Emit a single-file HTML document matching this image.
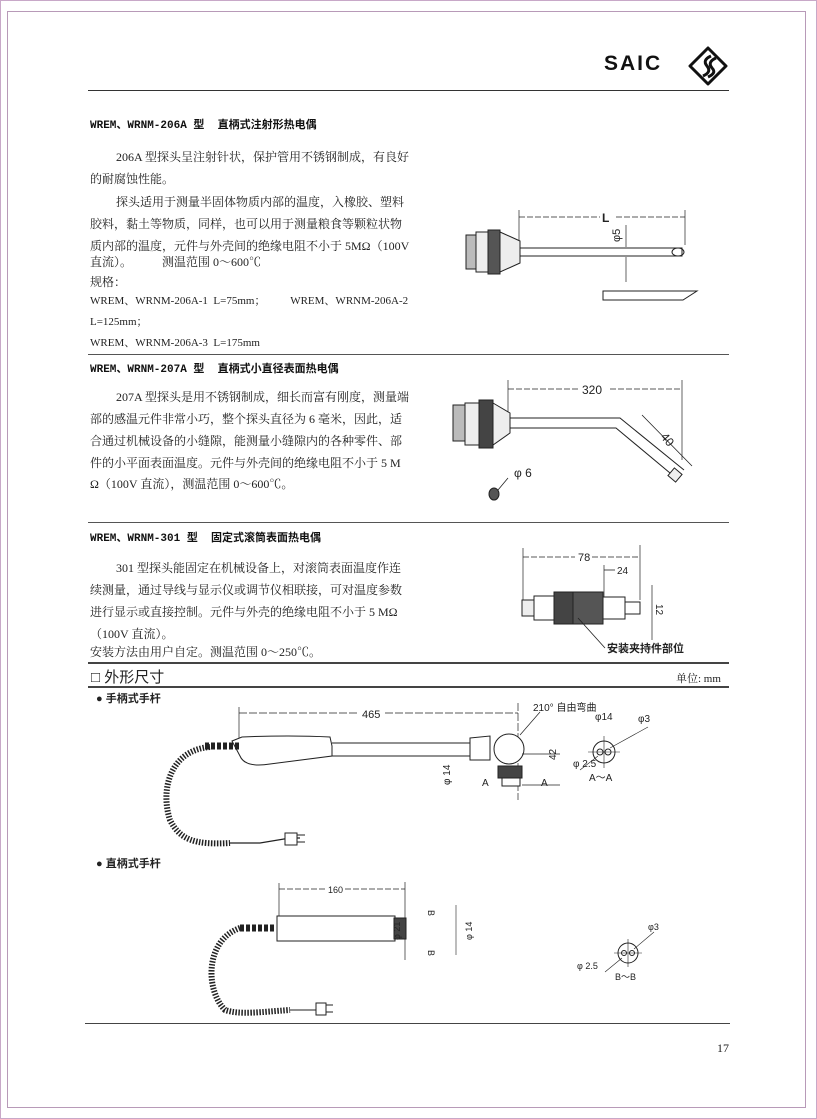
<!DOCTYPE html>
<html><head><meta charset="utf-8"><style>
body{margin:0;width:817px;height:1119px;background:#fff;position:relative;overflow:hidden;font-family:"Liberation Serif","Noto Serif CJK SC",serif;color:#222}
.t{position:absolute;font-size:12px;white-space:nowrap;line-height:14px}
.h{position:absolute;font-size:11px;font-weight:bold;white-space:nowrap;font-family:"Liberation Mono","Noto Sans CJK SC",sans-serif;color:#111}
.r{position:absolute;height:1px;background:#555}
.s{font-family:"Liberation Sans","Noto Sans CJK SC",sans-serif}
</style></head><body>
<div style="position:absolute;left:0;top:0;width:815px;height:1117px;border:1px solid #c8a8c8"></div>
<div style="position:absolute;left:7px;top:11px;width:797px;height:1095px;border:1px solid #b89ab8"></div>

<div class="s" style="position:absolute;left:604px;top:52px;font-size:21px;font-weight:900;letter-spacing:2px;color:#111">SAIC</div>
<svg style="position:absolute;left:688px;top:46px" width="46" height="40"><path d="M20 2 L38 20 L20 38 L2 20 Z" fill="none" stroke="#111" stroke-width="3" stroke-linejoin="round"/><path d="M23 10 Q14 14 19 20 Q24 26 15 30 M28 12 Q19 16 24 22 Q29 27 20 31" fill="none" stroke="#111" stroke-width="3"/></svg>
<div class="r" style="left:88px;top:90px;width:641px;background:#333"></div>

<div class="h" style="left:90px;top:116px">WREM、WRNM-206A 型 &nbsp;直柄式注射形热电偶</div>
<div class="t" style="left:116px;top:150px">206A 型探头呈注射针状，保护管用不锈钢制成，有良好</div>
<div class="t" style="left:90px;top:172px">的耐腐蚀性能。</div>
<div class="t" style="left:116px;top:195px">探头适用于测量半固体物质内部的温度，入橡胶、塑料</div>
<div class="t" style="left:90px;top:217px">胶料，黏土等物质，同样，也可以用于测量粮食等颗粒状物</div>
<div class="t" style="left:90px;top:239px">质内部的温度，元件与外壳间的绝缘电阻不小于 5MΩ（100V</div>
<div class="t" style="left:90px;top:255px">直流）。&nbsp;&nbsp;&nbsp;&nbsp;&nbsp;&nbsp;&nbsp;&nbsp;&nbsp;&nbsp;测温范围 0～600℃</div>
<div class="t" style="left:90px;top:275px;font-size:12px">规格：</div>
<div class="t" style="left:90px;top:294px;font-size:11px">WREM、WRNM-206A-1 &nbsp;L=75mm； &nbsp;&nbsp;&nbsp;&nbsp;&nbsp;&nbsp;&nbsp;&nbsp;WREM、WRNM-206A-2</div>
<div class="t" style="left:90px;top:315px;font-size:11px">L=125mm；</div>
<div class="t" style="left:90px;top:336px;font-size:11px">WREM、WRNM-206A-3 &nbsp;L=175mm</div>
<div class="r" style="left:88px;top:354px;width:641px"></div>

<div class="h" style="left:90px;top:360px">WREM、WRNM-207A 型 &nbsp;直柄式小直径表面热电偶</div>
<div class="t" style="left:116px;top:390px">207A 型探头是用不锈钢制成，细长而富有刚度，测量端</div>
<div class="t" style="left:90px;top:412px">部的感温元件非常小巧，整个探头直径为 6 毫米，因此，适</div>
<div class="t" style="left:90px;top:434px">合通过机械设备的小缝隙，能测量小缝隙内的各种零件、部</div>
<div class="t" style="left:90px;top:456px">件的小平面表面温度。元件与外壳间的绝缘电阻不小于 5 M</div>
<div class="t" style="left:90px;top:477px">Ω（100V 直流），测温范围 0～600℃。</div>
<div class="r" style="left:88px;top:522px;width:641px"></div>

<div class="h" style="left:90px;top:529px">WREM、WRNM-301 型 &nbsp;固定式滚筒表面热电偶</div>
<div class="t" style="left:116px;top:561px">301 型探头能固定在机械设备上，对滚筒表面温度作连</div>
<div class="t" style="left:90px;top:583px">续测量，通过导线与显示仪或调节仪相联接，可对温度参数</div>
<div class="t" style="left:90px;top:605px">进行显示或直接控制。元件与外壳的绝缘电阻不小于 5 MΩ</div>
<div class="t" style="left:90px;top:627px">（100V 直流）。</div>
<div class="t" style="left:90px;top:645px">安装方法由用户自定。测温范围 0～250℃。</div>
<div class="r" style="left:88px;top:662px;width:641px;background:#444;height:2px"></div>
<div class="s" style="position:absolute;left:91px;top:666px;font-size:15px">□ 外形尺寸</div>
<div class="t" style="left:676px;top:672px;font-size:11px">单位: mm</div>
<div class="r" style="left:88px;top:686px;width:641px;background:#444;height:2px"></div>
<div class="s" style="position:absolute;left:96px;top:690px;font-size:11px;font-weight:bold">● 手柄式手杆</div>
<div class="s" style="position:absolute;left:96px;top:855px;font-size:11px;font-weight:bold">● 直柄式手杆</div>

<svg style="position:absolute;left:0;top:0" width="817" height="1119" font-family="Liberation Sans,Noto Sans CJK SC,sans-serif" fill="none" stroke="#222">
<rect x="466" y="235" width="10" height="34" fill="#bbb"/>
<rect x="476" y="232" width="12" height="40" fill="#eee"/>
<rect x="488" y="230" width="12" height="44" fill="#555"/>
<path d="M500 232 L520 241 L520 263 L500 272 Z" fill="#eee"/>
<rect x="520" y="248" width="162" height="8" fill="#fff"/>
<ellipse cx="678" cy="252" rx="6" ry="4"/>
<line x1="519" y1="210" x2="519" y2="240" stroke-width=".7"/><line x1="685" y1="210" x2="685" y2="245" stroke-width=".7"/>
<line x1="519" y1="217" x2="600" y2="217" stroke-dasharray="6 2" stroke-width=".8"/><line x1="616" y1="217" x2="685" y2="217" stroke-dasharray="6 2" stroke-width=".8"/>
<text x="602" y="222" fill="#222" stroke="none" font-size="12" font-weight="bold">L</text>
<line x1="626" y1="225" x2="626" y2="247" stroke-width=".7"/><line x1="626" y1="257" x2="626" y2="282" stroke-width=".7"/>
<text x="620" y="242" fill="#222" stroke="none" font-size="11" transform="rotate(-90 620 242)">φ5</text>
<path d="M603 291 L697 291 L683 300 L603 300 Z"/>
<rect x="453" y="405" width="12" height="36" fill="#bbb"/>
<rect x="465" y="403" width="14" height="42" fill="#eee"/>
<rect x="479" y="400" width="14" height="48" fill="#444"/>
<path d="M493 403 L510 413 L510 433 L493 445 Z" fill="#eee"/>
<path d="M510 418 L620 418 L684 470 M510 428 L616 428 L676 478" />
<rect x="670" y="470" width="10" height="10" transform="rotate(40 675 475)" fill="#eee"/>
<line x1="508" y1="380" x2="508" y2="412" stroke-width=".7"/><line x1="682" y1="380" x2="682" y2="460" stroke-width=".7"/>
<line x1="508" y1="389" x2="578" y2="389" stroke-dasharray="6 2" stroke-width=".8"/><line x1="610" y1="389" x2="682" y2="389" stroke-dasharray="6 2" stroke-width=".8"/>
<text x="582" y="394" fill="#222" stroke="none" font-size="12">320</text>
<line x1="642" y1="415" x2="692" y2="466" stroke-width=".8"/>
<text x="660" y="437" fill="#222" stroke="none" font-size="12" transform="rotate(50 660 437)">40</text>
<text x="514" y="477" fill="#222" stroke="none" font-size="12">φ 6</text>
<line x1="508" y1="478" x2="498" y2="490" stroke-width=".8"/>
<ellipse cx="494" cy="494" rx="5" ry="6" fill="#555"/>
<rect x="522" y="600" width="12" height="16" fill="#eee"/><rect x="534" y="596" width="20" height="24" fill="#fff"/>
<rect x="554" y="592" width="19" height="32" fill="#444"/><rect x="573" y="592" width="30" height="32" fill="#555"/>
<rect x="603" y="597" width="22" height="22" fill="#fff"/><rect x="625" y="602" width="15" height="12" fill="#fff"/>
<line x1="523" y1="548" x2="523" y2="600" stroke-width=".7"/><line x1="640" y1="545" x2="640" y2="600" stroke-width=".7"/><line x1="604" y1="565" x2="604" y2="597" stroke-width=".7"/>
<line x1="523" y1="557" x2="575" y2="557" stroke-dasharray="6 2" stroke-width=".8"/><line x1="592" y1="557" x2="640" y2="557" stroke-dasharray="6 2" stroke-width=".8"/>
<text x="578" y="561" fill="#222" stroke="none" font-size="11">78</text>
<line x1="604" y1="570" x2="615" y2="570" stroke-width=".8"/><text x="617" y="574" fill="#222" stroke="none" font-size="10">24</text>
<line x1="652" y1="585" x2="652" y2="640" stroke-width=".7"/><text x="656" y="604" fill="#222" stroke="none" font-size="10" transform="rotate(90 656 604)">12</text>
<line x1="578" y1="618" x2="605" y2="648" stroke-width=".8"/>
<text x="607" y="652" fill="#222" stroke="none" font-size="11" font-weight="bold">安装夹持件部位</text>
<line x1="239" y1="707" x2="239" y2="752" stroke-width=".7"/><line x1="518" y1="703" x2="518" y2="800" stroke-width=".7" stroke-dasharray="8 2"/>
<line x1="239" y1="713" x2="358" y2="713" stroke-dasharray="8 2" stroke-width=".8"/><line x1="385" y1="713" x2="518" y2="713" stroke-dasharray="8 2" stroke-width=".8"/>
<text x="362" y="718" fill="#222" stroke="none" font-size="11">465</text>
<path d="M232 741 L242 737 Q290 735 330 737 L332 746 L332 756 Q300 760 270 764 Q245 768 240 756 Z" fill="#fff"/>
<path d="M332 743 L470 743 M332 756 L470 756" />
<path d="M470 738 L490 736 L490 760 L470 760 Z" fill="#fff"/>
<circle cx="509" cy="749" r="15" fill="#fff"/>
<rect x="498" y="766" width="24" height="12" fill="#444"/><rect x="502" y="778" width="18" height="8" fill="#fff"/>
<line x1="522" y1="754" x2="560" y2="754" stroke-width=".7"/><line x1="522" y1="785" x2="560" y2="785" stroke-width=".7"/>
<text x="556" y="760" fill="#222" stroke="none" font-size="10" transform="rotate(-90 556 760)">42</text>
<text x="450" y="785" fill="#222" stroke="none" font-size="10" transform="rotate(-90 450 785)">φ 14</text>
<text x="482" y="786" fill="#222" stroke="none" font-size="10">A</text><text x="541" y="786" fill="#222" stroke="none" font-size="10">A</text>
<line x1="520" y1="735" x2="540" y2="712" stroke-width=".7"/>
<text x="533" y="711" fill="#222" stroke="none" font-size="10">210° 自由弯曲</text>
<circle cx="604" cy="752" r="11"/><circle cx="600" cy="752" r="3"/><circle cx="608" cy="752" r="3"/>
<line x1="588" y1="752" x2="620" y2="752" stroke-width=".6"/><line x1="604" y1="736" x2="604" y2="768" stroke-width=".6"/>
<text x="595" y="720" fill="#222" stroke="none" font-size="10">φ14</text><text x="638" y="722" fill="#222" stroke="none" font-size="10">φ3</text>
<line x1="610" y1="748" x2="648" y2="727" stroke-width=".6"/><line x1="598" y1="756" x2="580" y2="770" stroke-width=".6"/>
<text x="573" y="767" fill="#222" stroke="none" font-size="10">φ 2.5</text><text x="589" y="781" fill="#222" stroke="none" font-size="10">A～A</text>
<path d="M210 747 C170 750 160 790 170 820 C180 840 195 845 230 843" stroke="#222" stroke-width="6" stroke-dasharray="1.5 1.5"/>
<path d="M205 746 L240 746" stroke="#222" stroke-width="7" stroke-dasharray="4 2"/>
<path d="M230 843 L260 843 L290 838 L300 838" stroke-width="1.2"/>
<rect x="285" y="833" width="12" height="12" fill="#fff"/><path d="M297 835 L305 835 M297 842 L305 842"/>
<line x1="279" y1="883" x2="279" y2="925" stroke-width=".7"/><line x1="405" y1="882" x2="405" y2="960" stroke-width=".7"/>
<line x1="279" y1="889" x2="326" y2="889" stroke-dasharray="6 2" stroke-width=".8"/><line x1="345" y1="889" x2="405" y2="889" stroke-dasharray="6 2" stroke-width=".8"/>
<text x="328" y="893" fill="#222" stroke="none" font-size="9">160</text>
<rect x="277" y="916" width="118" height="25" fill="#fff"/>
<rect x="394" y="918" width="12" height="21" fill="#444"/>
<text x="428" y="910" fill="#222" stroke="none" font-size="9" transform="rotate(90 428 910)">B</text><text x="428" y="950" fill="#222" stroke="none" font-size="9" transform="rotate(90 428 950)">B</text>
<text x="400" y="940" fill="#222" stroke="none" font-size="9" transform="rotate(-90 400 940)">φ 21</text>
<text x="472" y="940" fill="#222" stroke="none" font-size="9" transform="rotate(-90 472 940)">φ 14</text>
<line x1="456" y1="905" x2="456" y2="955" stroke-width=".6"/>
<path d="M240 928 C205 940 205 990 225 1010 C240 1015 260 1012 290 1010" stroke="#222" stroke-width="6" stroke-dasharray="1.5 1.5"/>
<path d="M240 928 L275 928" stroke="#222" stroke-width="7" stroke-dasharray="4 2"/>
<path d="M290 1010 L320 1010"/><rect x="316" y="1003" width="10" height="12" fill="#fff"/><path d="M326 1005 L333 1005 M326 1012 L333 1012"/>
<circle cx="628" cy="953" r="10"/><circle cx="624" cy="953" r="2.5"/><circle cx="632" cy="953" r="2.5"/>
<line x1="614" y1="953" x2="642" y2="953" stroke-width=".6"/><line x1="628" y1="939" x2="628" y2="967" stroke-width=".6"/>
<line x1="634" y1="949" x2="654" y2="932" stroke-width=".6"/><line x1="622" y1="958" x2="605" y2="972" stroke-width=".6"/>
<text x="648" y="930" fill="#222" stroke="none" font-size="9">φ3</text><text x="577" y="969" fill="#222" stroke="none" font-size="9">φ 2.5</text>
<text x="615" y="980" fill="#222" stroke="none" font-size="9">B～B</text>
</svg>

<div class="r" style="left:85px;top:1023px;width:645px;background:#444"></div>
<div class="t" style="left:717px;top:1041px;font-size:12px">17</div>
</body></html>
